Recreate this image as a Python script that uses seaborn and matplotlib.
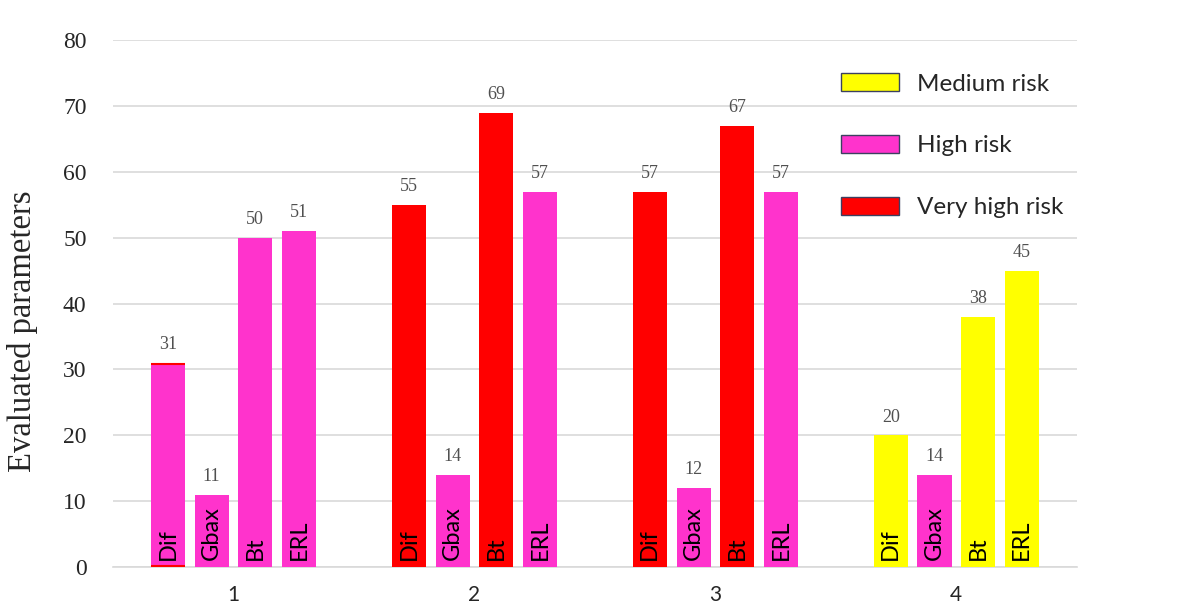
import pandas as pd
import numpy as np
import matplotlib
matplotlib.use("Agg")
import matplotlib.pyplot as plt
from matplotlib.patches import Patch
import seaborn as sns

# --- data ---
groups = ["1", "2", "3", "4"]
params = ["Dif", "Gbax", "Bt", "ERL"]
values_g1 = [31, 11, 50, 51]
values_g2 = [55, 14, 69, 57]
values_g3 = [57, 12, 67, 57]
values_g4 = [20, 14, 38, 45]
risk_g1 = ["High", "High", "High", "High"]
risk_g2 = ["Very high", "High", "Very high", "High"]
risk_g3 = ["Very high", "High", "Very high", "High"]
risk_g4 = ["Medium", "High", "Medium", "Medium"]
risk_levels = ["Medium", "High", "Very high"]
legend_labels = ["Medium risk", "High risk", "Very high risk"]

risk_colors = {"Medium": "#FFFF00", "High": "#FF33CC", "Very high": "#FF0000"}

rows = []
for g, vals, risks in zip(groups,
                          [values_g1, values_g2, values_g3, values_g4],
                          [risk_g1, risk_g2, risk_g3, risk_g4]):
    for p, v, r in zip(params, vals, risks):
        rows.append({"group": g, "param": p, "value": v, "risk": r})
df = pd.DataFrame(rows)

sns.set_style("white")
SERIF = ["Liberation Serif", "DejaVu Serif"]
SANS = ["Lato", "DejaVu Sans"]

fig = plt.figure(figsize=(11.82, 6.10), dpi=100)
ax = fig.add_axes([0.0956, 0.0705, 0.8154, 0.8635])

sns.barplot(data=df, x="group", y="value", hue="param", order=groups,
            hue_order=params, width=0.725, gap=0.22, palette=["#FF33CC"] * 4,
            legend=False, ax=ax, zorder=3)

# recolor each bar by its risk class, add labels
for i, cont in enumerate(ax.containers):
    for j, bar in enumerate(cont):
        row = df[(df["group"] == groups[j]) & (df["param"] == params[i])].iloc[0]
        bar.set_facecolor(risk_colors[row["risk"]])
        bar.set_edgecolor("none")
        cx = bar.get_x() + bar.get_width() / 2
        ax.annotate(params[i], (cx, 0), xytext=(0, 5), textcoords="offset points",
                    rotation=90, ha="center", va="bottom", fontsize=17,
                    family=SANS, color="black", zorder=4)
        ax.annotate(f"{row['value']}", (cx, row["value"]), xytext=(0, 7),
                    textcoords="offset points", ha="center", va="bottom",
                    fontsize=13, family=SERIF, color="#505050", zorder=4)

# the first Dif bar carries a thin red rim top and bottom in the original
b0 = ax.containers[0][0]
ax.hlines([0.15, values_g1[0] - 0.15], b0.get_x(), b0.get_x() + b0.get_width(),
          colors="#FF0000", linewidth=1.5, zorder=4)

ax.set_ylim(0, 80)
ax.set_xlim(-0.5, 3.5)
ax.set_yticks(range(0, 81, 10))
ax.yaxis.grid(True, color="#D9D9D9", linewidth=1.2, zorder=0)
ax.set_axisbelow(True)
for s in ["top", "right", "left"]:
    ax.spines[s].set_visible(False)
ax.spines["bottom"].set_color("#D9D9D9")
ax.spines["bottom"].set_linewidth(1.2)
ax.tick_params(axis="both", length=0)
ax.tick_params(axis="y", pad=19)
ax.tick_params(axis="x", pad=13)
for t in ax.get_yticklabels():
    t.set_fontfamily(SERIF)
    t.set_fontsize(17)
for t in ax.get_xticklabels():
    t.set_fontfamily(SANS)
    t.set_fontsize(15)
ax.set_xlabel("")
ax.set_ylabel("Evaluated parameters", family=SERIF, fontsize=23.5)
ax.yaxis.set_label_coords(-0.078, 0.448)

handles = [Patch(facecolor=risk_colors[r], edgecolor="#3C4060", linewidth=1.0)
           for r in risk_levels]
ax.legend(handles, legend_labels, loc="upper left", bbox_to_anchor=(0.733, 0.979),
          frameon=False, prop={"family": SANS, "size": 17.5},
          handlelength=2.39, handleheight=0.74, labelspacing=1.67, handletextpad=0.72)

fig.savefig("out.png", dpi=100)
